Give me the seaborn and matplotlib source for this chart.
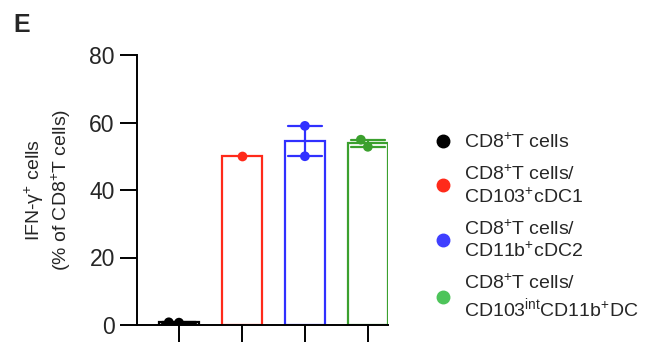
import matplotlib
matplotlib.use("Agg")
import matplotlib.pyplot as plt
import seaborn as sns
import pandas as pd
from matplotlib.lines import Line2D

sns.set_style("ticks")
plt.rcParams['font.family'] = ['Liberation Sans', 'DejaVu Sans']
plt.rcParams['mathtext.fontset'] = 'custom'
plt.rcParams['mathtext.rm'] = 'Liberation Sans'
plt.rcParams['mathtext.it'] = 'Liberation Sans'
plt.rcParams['mathtext.bf'] = 'Liberation Sans:bold'
plt.rcParams['mathtext.default'] = 'regular'

groups = ["CD8T", "CD103cDC1", "CD11bcDC2", "CD103intCD11bDC"]
cd8_only = [0.7, 0.8]
cd103_cdc1 = [50.2]
cd11b_cdc2 = [59.0, 50.0]
cd103int_dc = [52.8, 54.9]
legend_labels = [
    r"CD8$^{+}$T cells",
    "CD8$^{+}$T cells/\nCD103$^{+}$cDC1",
    "CD8$^{+}$T cells/\nCD11b$^{+}$cDC2",
    "CD8$^{+}$T cells/\nCD103$^{int}$CD11b$^{+}$DC",
]
yticks = [0, 20, 40, 60, 80]

bar_colors = ["#000000", "#FF2A1A", "#3030FF", "#3BA02E"]
legend_colors = ["#000000", "#FF2A1A", "#3F3FFF", "#4DC45A"]

rows = []
for g, vals in zip(groups, [cd8_only, cd103_cdc1, cd11b_cdc2, cd103int_dc]):
    for v in vals:
        rows.append({"group": g, "value": v})
df = pd.DataFrame(rows)
pal = dict(zip(groups, bar_colors))

fig = plt.figure(figsize=(6.53, 3.44), dpi=100)
ax = fig.add_axes([137/653, 19/344, (388-137)/653, (325-55)/344])

sns.barplot(data=df, x="group", y="value", hue="group", palette=pal, order=groups,
            hue_order=groups, fill=False, errorbar="se", capsize=0.55, width=0.63,
            linewidth=1.6, err_kws={"linewidth": 1.6}, legend=False, ax=ax, dodge=False)
sns.swarmplot(data=df, x="group", y="value", hue="group", palette=pal, order=groups,
              hue_order=groups, size=7, legend=False, ax=ax)

ax.set_xlim(-0.667, 3.32)
ax.set_ylim(0, 80)
ax.set_yticks(yticks)
ax.set_yticklabels([str(t) for t in yticks], fontsize=16.5)
ax.set_xticks(range(4))
ax.set_xticklabels([])
ax.set_xlabel("")
ax.set_ylabel("IFN-γ$^{+}$ cells\n(% of CD8$^{+}$T cells)", fontsize=14)
ax.yaxis.set_label_coords(-0.255, 0.5)
for s in ["top", "right"]:
    ax.spines[s].set_visible(False)
for s in ["left", "bottom"]:
    ax.spines[s].set_linewidth(1.4)
    ax.spines[s].set_color("black")
ax.tick_params(axis="both", length=12.5, width=1.4, color="black", pad=3.5)
ax.spines["bottom"].set_zorder(5)

handles = [Line2D([], [], marker="o", linestyle="none", markersize=9,
                  markerfacecolor=c, markeredgecolor=c) for c in legend_colors]
fig.legend(handles, legend_labels, loc="upper left", bbox_to_anchor=(427/653, 1 - 125/344),
           frameon=False, fontsize=14, handlelength=0.8, handletextpad=0.7,
           labelspacing=0.65, borderaxespad=0)

fig.text(13/653, 1 - 32/344, "E", fontsize=18, fontweight="bold", ha="left", va="baseline")

fig.savefig("out.png", dpi=100)
